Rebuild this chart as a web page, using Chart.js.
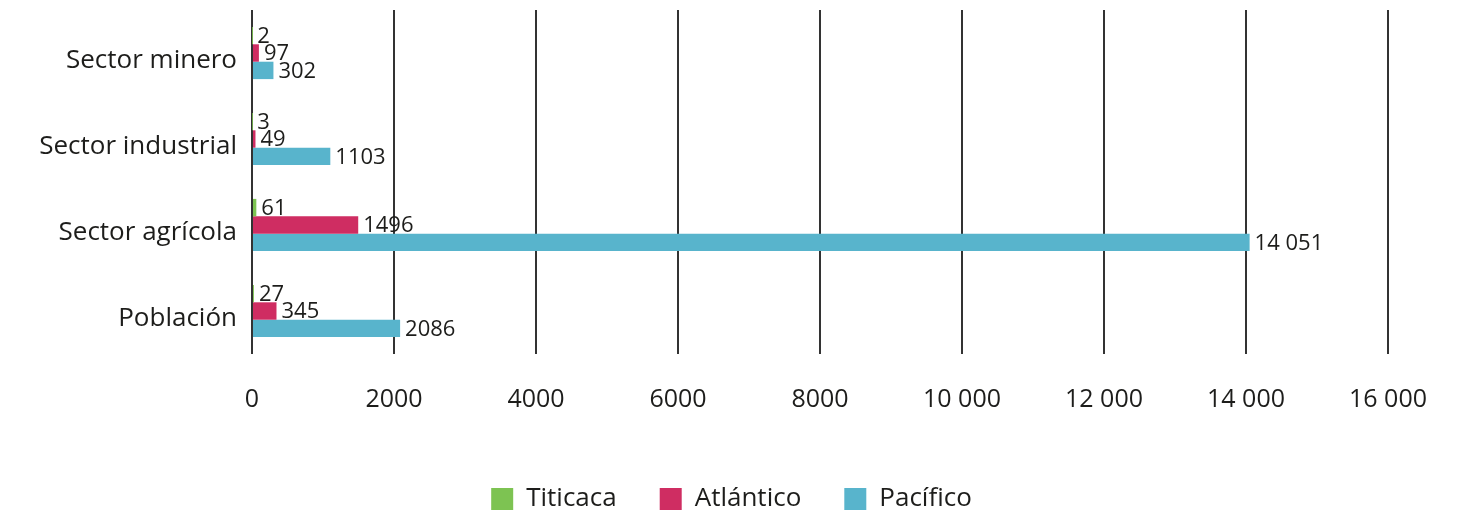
<!DOCTYPE html>
<html>
<head>
<meta charset="utf-8">
<script src="https://cdn.jsdelivr.net/npm/chart.js@4"></script>
<style>
  html, body { margin: 0; padding: 0; background: #fff; }
  #wrap { width: 1463px; height: 516px; position: relative; }
</style>
</head>
<body>
<div id="wrap"><canvas id="chart"></canvas></div>
<script>
  'use strict';

  const categories = ['Sector minero', 'Sector industrial', 'Sector agrícola', 'Población'];
  const titicaca = [2, 3, 61, 27];
  const atlantico = [97, 49, 1496, 345];
  const pacifico = [302, 1103, 14051, 2086];
  const xTicks = [0, 2000, 4000, 6000, 8000, 10000, 12000, 14000, 16000];

  const FONT = '"Open Sans", "Noto Sans", sans-serif';
  const INK = '#1d1d1b';

  // Spanish style: group thousands with a space only from 5 digits up
  function fmt(n) {
    if (Math.abs(n) < 10000) return String(n);
    return String(n).replace(/\B(?=(\d{3})+(?!\d))/g, ' ');
  }

  const valueLabels = {
    id: 'valueLabels',
    afterDatasetsDraw(chart) {
      const ctx = chart.ctx;
      ctx.save();
      ctx.font = '22px ' + FONT;
      ctx.fillStyle = INK;
      ctx.textAlign = 'left';
      ctx.textBaseline = 'middle';
      chart.data.datasets.forEach((ds, i) => {
        const meta = chart.getDatasetMeta(i);
        if (meta.hidden) return;
        meta.data.forEach((bar, j) => {
          ctx.fillText(fmt(ds.data[j]), bar.x + 5, bar.y + 1);
        });
      });
      ctx.restore();
    }
  };

  new Chart(document.getElementById('chart'), {
    type: 'bar',
    data: {
      labels: categories,
      datasets: [
        { label: 'Titicaca', data: titicaca, backgroundColor: '#7dc352' },
        { label: 'Atlántico', data: atlantico, backgroundColor: '#cf2d62' },
        { label: 'Pacífico', data: pacifico, backgroundColor: '#58b4cc' }
      ]
    },
    options: {
      indexAxis: 'y',
      responsive: true,
      maintainAspectRatio: false,
      animation: false,
      layout: { padding: { top: 10, right: 0, left: 0, bottom: -6 } },
      datasets: { bar: { categoryPercentage: 0.607, barPercentage: 1 } },
      plugins: {
        legend: {
          position: 'bottom',
          labels: {
            boxWidth: 22, boxHeight: 22, padding: 43,
            color: INK, font: { family: FONT, size: 26 }
          }
        },
        tooltip: { enabled: false }
      },
      scales: {
        x: {
          min: 0, max: 16000,
          afterBuildTicks(scale) { scale.ticks = xTicks.map(v => ({ value: v })); },
          afterFit(scale) { scale.height = 89; scale.paddingRight = 75; scale.paddingLeft = 0; },
          grid: { color: '#333', lineWidth: 2, drawTicks: false },
          border: { display: false },
          ticks: {
            padding: 31, color: INK, font: { family: FONT, size: 25 },
            callback: v => fmt(v)
          }
        },
        y: {
          afterFit(scale) { scale.width = 252; scale.paddingTop = 0; scale.paddingBottom = 0; },
          grid: { display: false, drawTicks: false },
          border: { display: false },
          ticks: {
            padding: 15, labelOffset: 8, color: INK,
            font: { family: FONT, size: 26 }
          }
        }
      }
    },
    plugins: [valueLabels]
  });
</script>
</body>
</html>
